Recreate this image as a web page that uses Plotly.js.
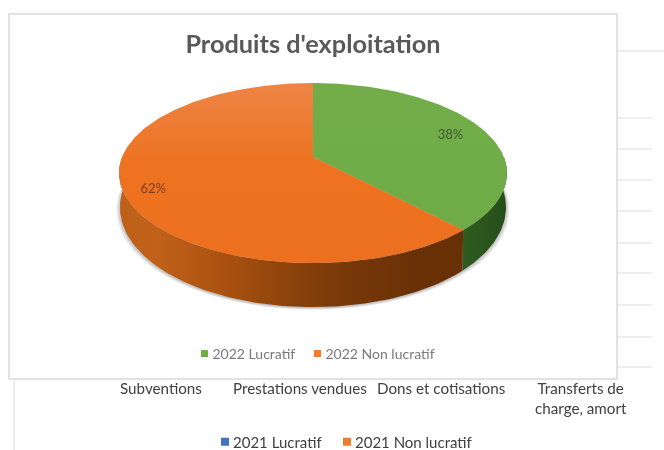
<!DOCTYPE html>
<html><head><meta charset="utf-8">
<script src="https://cdn.plot.ly/plotly-3.0.1.min.js"></script>
<style>html,body{margin:0;padding:0;background:#fff;overflow:hidden}#c{width:664px;height:450px;filter:blur(0.55px)}</style>
</head><body><div id="c"></div>
<script>
const title = "Produits d'exploitation";
const categories2022 = ['2022 Lucratif', '2022 Non lucratif'];
const values2022 = [38, 62];
const colors2022 = ['#70AD47', '#ED7D31'];
const categories2021 = ['2021 Lucratif', '2021 Non lucratif'];
const colors2021 = ['#4472C4', '#ED7D31'];
const tickLabels = ['Subventions', 'Prestations vendues', 'Dons et cotisations', 'Transferts de<br>charge, amort'];
const tickX = [161, 300, 441, 581];
const tickY = [388, 388, 388, 398];
const gridY = [118, 149, 180, 211, 243, 273, 305, 337, 367];

const W = 664, H = 450, CX = 313, CY = 157;
const TOP = {a: 87.2, b: 0.178, c: 190.9};
const rad = p => p * Math.PI / 180;
function proj(phi, r) {
  const u = Math.sin(rad(phi)) * r, v = Math.cos(rad(phi)) * r, k = 1 + TOP.b * v;
  return [TOP.c * u / k, TOP.a * v / k];
}
function lower(phi) {
  const p = proj(phi, 1), v = Math.cos(rad(phi));
  return [p[0] * 0.995, p[1] - 32 - 12 * Math.max(0, -v)];
}
function arc(f, p1, p2) {
  const pts = [], n = Math.max(2, Math.ceil(Math.abs(p2 - p1)));
  for (let i = 0; i <= n; i++) pts.push(f(p1 + (p2 - p1) * i / n));
  return pts;
}
const upper = phi => proj(phi, 1);
const total = values2022.reduce((s, v) => s + v, 0);
const edges = [0];
values2022.forEach(v => edges.push(edges[edges.length - 1] + v / total * 360));

function area(pts, extra) {
  return Object.assign({
    x: pts.map(p => p[0]), y: pts.map(p => p[1]), mode: 'lines', fill: 'toself',
    line: {width: 0}, showlegend: false, hoverinfo: 'skip'
  }, extra);
}
const traces = [];
// soft shadow under the drum
[5, 4, 3, 2, 1].forEach(e => {
  const pts = arc(lower, 0, 360).map(p => [p[0] * (1 + (e - 1.5) / 190), p[1] - e * 0.55]);
  traces.push(area(pts, {fillcolor: 'rgba(30,30,30,0.07)'}));
});
// side walls
const wallA = arc(upper, 90, edges[1]).concat(arc(lower, edges[1], 90));
traces.push(area(wallA, {fillgradient: {type: 'horizontal', start: 150, stop: 194,
  colorscale: [[0, '#2f5c20'], [1, '#264d1a']]}}));
const wallB = arc(upper, edges[1], 270).concat(arc(lower, 270, edges[1]));
traces.push(area(wallB, {fillgradient: {type: 'horizontal', start: -194, stop: 152,
  colorscale: [[0, '#bd5f18'], [0.1, '#c2621a'], [0.32, '#a8500f'], [0.6, '#7c3b09'], [0.85, '#6b3106'], [1, '#683005']]}}));
// top face
const faceFill = [
  {fillgradient: {type: 'vertical', start: -106, stop: 74, colorscale: [[0, '#6eab46'], [1, '#72ad4a']]}},
  {fillgradient: {type: 'vertical', start: -106, stop: 74, colorscale: [[0, '#ec701f'], [0.55, '#ee7220'], [1, '#ed8546']]}}
];
values2022.forEach((v, i) => {
  const pts = [[0, 0]].concat(arc(upper, edges[i], edges[i + 1]));
  pts.push([0, 0]);
  traces.push(area(pts, faceFill[i]));
});
// percent labels
const labelPts = values2022.map((v, i) => proj((edges[i] + edges[i + 1]) / 2, 0.835));
traces.push({x: labelPts.map(p => p[0] - 3), y: labelPts.map(p => p[1] - 4),
  text: values2022.map(v => v + '%'), mode: 'text', textposition: 'middle center',
  textfont: {family: 'Lato', size: 13, color: ['#3f5a30', '#7a4020']},
  showlegend: false, hoverinfo: 'skip'});
// legends
categories2022.forEach((n, i) => traces.push({x: [null], y: [null], name: n, mode: 'markers', legend: 'legend',
  marker: {symbol: 'square', size: 7, color: colors2022[i]}}));
categories2021.forEach((n, i) => traces.push({x: [null], y: [null], name: n, mode: 'markers', legend: 'legend2',
  marker: {symbol: 'square', size: 8, color: colors2021[i]}}));

const px = x => x / W, py = y => 1 - y / H;
const line = (x0, y0, x1, y1, c, w) => ({type: 'line', xref: 'paper', yref: 'paper',
  x0: px(x0), y0: py(y0), x1: px(x1), y1: py(y1), line: {color: c, width: w}, layer: 'below'});
const shapes = [line(14, 379, 14, 450, '#dcdcdc', 1), line(617, 51, 664, 51, '#dcdcdc', 1)];
gridY.forEach(y => shapes.push(line(617, y, 652, y, '#dedede', 1)));
shapes.push({type: 'rect', xref: 'paper', yref: 'paper', x0: px(9), x1: px(617), y0: py(379), y1: py(14),
  line: {color: '#d9d9d9', width: 1.5}, fillcolor: '#ffffff', layer: 'below'});

const annotations = tickLabels.map((t, i) => ({text: t, xref: 'paper', yref: 'paper', x: px(tickX[i]), y: py(tickY[i]),
  xanchor: 'center', yanchor: 'middle', showarrow: false, align: 'center',
  font: {family: 'Lato', size: 15.2, color: '#404040'}}));

Plotly.newPlot('c', traces, {
  width: W, height: H, margin: {l: 0, r: 0, t: 0, b: 0, autoexpand: false}, paper_bgcolor: '#fff', plot_bgcolor: 'rgba(0,0,0,0)',
  title: {text: title, x: 313 / W, xanchor: 'center', y: py(44), yanchor: 'middle',
    font: {family: 'Lato', size: 25.3, color: '#595959', weight: 700}},
  xaxis: {range: [-CX, W - CX], visible: false, fixedrange: true},
  yaxis: {range: [CY - H, CY], visible: false, fixedrange: true},
  showlegend: true,
  legend: {orientation: 'h', x: px(172.5), y: py(354), xanchor: 'left', yanchor: 'middle', bgcolor: 'rgba(0,0,0,0)',
    font: {family: 'Lato', size: 14, color: '#7a7a7a'}, itemwidth: 30},
  legend2: {orientation: 'h', x: px(193), y: py(442), xanchor: 'left', yanchor: 'middle', bgcolor: 'rgba(0,0,0,0)',
    font: {family: 'Lato', size: 15, color: '#404040'}, itemwidth: 30},
  shapes, annotations
}, {displayModeBar: false, staticPlot: true}).then(() => {
  // legend keys sit close to their labels in the reference, and entries sit closer together
  document.querySelectorAll('.legendsymbols').forEach(g => g.setAttribute('transform', 'translate(12,0)'));
  [['.legend', 113], ['.legend2', 122]].forEach(([sel, step]) => {
    const items = document.querySelectorAll(sel + ' .traces');
    if (items.length < 2) return;
    const m = /translate\(([-\d.]+),\s*([-\d.]+)\)/.exec(items[0].getAttribute('transform'));
    if (m) items[1].setAttribute('transform', 'translate(' + (parseFloat(m[1]) + step) + ',' + m[2] + ')');
  });
});
</script></body></html>
